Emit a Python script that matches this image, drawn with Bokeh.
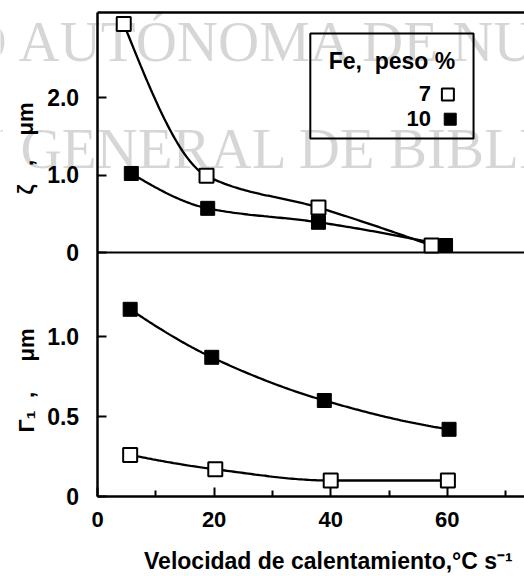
import numpy as np
from bokeh.plotting import figure
from bokeh.models import Range1d, FixedTicker, Label, BoxAnnotation
from bokeh.embed import file_html
from bokeh.resources import INLINE

# ---------------- data ----------------
x_zeta_7 = [4.5, 18.7, 37.9, 57.3]
zeta_7 = [2.95, 0.99, 0.58, 0.09]
x_zeta_10 = [5.8, 18.9, 37.9, 59.7]
zeta_10 = [1.02, 0.57, 0.39, 0.09]

x_gamma_7 = [5.6, 20.2, 40.0, 60.1]
gamma_7 = [0.26, 0.17, 0.10, 0.10]
x_gamma_10 = [5.6, 19.6, 38.9, 60.3]
gamma_10 = [1.17, 0.87, 0.60, 0.42]

x_ticks = [0, 20, 40, 60]
x_minor_ticks = [10, 30, 50, 70]
zeta_ticks = [0, 1, 2]
zeta_tick_labels = ["0", "1.0", "2.0"]
gamma_ticks = [0, 0.5, 1.0]
gamma_tick_labels = ["0", "0.5", "1.0"]
legend_title = "Fe,\u00a0 peso %"
legend_labels = ["7", "10"]
x_title = "Velocidad de calentamiento,°C s⁻¹"
NB = "\u00a0"
zeta_title = "ζ" + NB * 3 + "," + NB * 4 + "μm"
gamma_title = "Γ₁" + NB * 2 + "," + NB * 5 + "μm"
watermark = [("UNIVERSIDAD", "AUTÓNOMA DE NUEVO LEÓN"),
             ("DIRECCIÓN", "GENERAL DE BIBLIOTECAS")]

FONT = "Liberation Sans"
SERIF = "Liberation Serif"

# ranges: the frame covers the whole canvas; axes are fixed at x = 0 and y = 0
X_RANGE = (-16.64, 73.24)
G_RANGE = (-0.5, 3.1)        # lower panel (Gamma_1), main range
Z_RANGE = (-4.181, 3.252)    # upper panel (zeta), extra range
G_TOP = 3.025                # top border of the upper panel


def z_to_g(z):
    return (z - Z_RANGE[0]) / (Z_RANGE[1] - Z_RANGE[0]) * (G_RANGE[1] - G_RANGE[0]) + G_RANGE[0]


def smooth(x, y, n=50):
    """Monotone cubic (PCHIP) drawing curve through the data points."""
    x = np.asarray(x, float)
    y = np.asarray(y, float)
    h = np.diff(x)
    d = np.diff(y) / h
    m = np.zeros_like(y)
    for k in range(1, len(x) - 1):
        if d[k - 1] * d[k] <= 0:
            m[k] = 0.0
        else:
            w1 = 2 * h[k] + h[k - 1]
            w2 = h[k] + 2 * h[k - 1]
            m[k] = (w1 + w2) / (w1 / d[k - 1] + w2 / d[k])

    def end(h0, h1, d0, d1):
        s = ((2 * h0 + h1) * d0 - h0 * d1) / (h0 + h1)
        if np.sign(s) != np.sign(d0):
            return 0.0
        if np.sign(d0) != np.sign(d1) and abs(s) > abs(3 * d0):
            return 3 * d0
        return s

    m[0] = end(h[0], h[1], d[0], d[1])
    m[-1] = end(h[-1], h[-2], d[-1], d[-2])
    xs, ys = [], []
    t = np.linspace(0, 1, n)
    for k in range(len(x) - 1):
        h00 = 2 * t**3 - 3 * t**2 + 1
        h10 = t**3 - 2 * t**2 + t
        h01 = -2 * t**3 + 3 * t**2
        h11 = t**3 - t**2
        xs.extend(x[k] + t * h[k])
        ys.extend(h00 * y[k] + h10 * h[k] * m[k] + h01 * y[k + 1] + h11 * h[k] * m[k + 1])
    return xs, ys


p = figure(width=524, height=576, x_range=Range1d(*X_RANGE), y_range=Range1d(*G_RANGE),
           output_backend="svg", toolbar_location=None,
           min_border_left=0, min_border_right=0, min_border_top=0, min_border_bottom=0,
           outline_line_color=None, background_fill_color="white", border_fill_color="white")
p.extra_y_ranges = {"zeta": Range1d(*Z_RANGE)}
p.grid.visible = False

# ---- watermark (behind everything, light) ----
wm_kw = dict(text_font=SERIF, text_font_size="57px", text_color="black", text_alpha=0.16,
             text_baseline="middle", y_range_name="zeta", level="underlay")
for (left_part, right_part), yc, xr, xl in zip(watermark, [2.72, 1.34], [-15.6, -16.0],
                                               [-13.55, -13.2]):
    p.add_layout(Label(x=xr, y=yc, text=left_part, text_align="right", **wm_kw))
    p.add_layout(Label(x=xl, y=yc, text=right_part, text_align="left", **wm_kw))

# ---- y axis: fixed at x = 0, ticks of both panels on one axis line ----
ya = p.yaxis[0]
ya.fixed_location = 0
ya.bounds = (0, G_TOP)
all_ticks = [float(t) for t in gamma_ticks] + [float(z_to_g(z)) for z in zeta_ticks]
all_labels = gamma_tick_labels + zeta_tick_labels
ya.ticker = FixedTicker(ticks=all_ticks)
ya.major_label_overrides = {t: l + NB for t, l in zip(all_ticks, all_labels)}
ya.major_tick_in = 9
ya.major_tick_out = 0
ya.minor_tick_line_color = None
ya.axis_line_width = 2.5
ya.major_tick_line_width = 2
ya.major_label_standoff = 12
ya.major_label_text_font = FONT
ya.major_label_text_font_style = "bold"
ya.major_label_text_font_size = "23px"
ya.major_label_text_color = "black"

# ---- x axis: fixed at y = 0 ----
xa = p.xaxis[0]
xa.fixed_location = 0
xa.bounds = (x_ticks[0], X_RANGE[1])
xa.ticker = FixedTicker(ticks=x_ticks, minor_ticks=x_minor_ticks)
xa.major_tick_in = 9
xa.major_tick_out = 0
xa.minor_tick_in = 6
xa.minor_tick_out = 0
xa.axis_line_width = 2.5
xa.major_tick_line_width = 2
xa.minor_tick_line_width = 2
xa.major_label_standoff = 15
xa.major_label_text_font = FONT
xa.major_label_text_font_style = "bold"
xa.major_label_text_font_size = "22px"
xa.major_label_text_color = "black"

# ---- axis titles ----
title_kw = dict(text_font=FONT, text_font_style="bold", text_color="black",
                text_align="center", text_baseline="middle")
p.add_layout(Label(x=39.6, y=-0.40, text=x_title, text_font_size="23px", **title_kw))
p.add_layout(Label(x=-12.3, y=1.342, text=zeta_title, angle=np.pi / 2,
                   text_font_size="22px", y_range_name="zeta", **title_kw))
p.add_layout(Label(x=-12.1, y=0.725, text=gamma_title, angle=np.pi / 2,
                   text_font_size="22px", **title_kw))

# ---- frame lines: top border and zero line of the upper panel ----
p.segment(x0=[x_ticks[0]], x1=[X_RANGE[1]], y0=[G_TOP], y1=[G_TOP],
          line_color="black", line_width=2.5)
p.segment(x0=[x_ticks[0]], x1=[X_RANGE[1]], y0=[0], y1=[0],
          line_color="black", line_width=2, y_range_name="zeta")

# ---- upper panel: zeta ----
xs, ys = smooth(x_zeta_7, zeta_7)
p.line(xs, ys, line_color="black", line_width=2.3, y_range_name="zeta")
xs, ys = smooth(x_zeta_10, zeta_10)
p.line(xs, ys, line_color="black", line_width=2.3, y_range_name="zeta")
p.scatter(x_zeta_7, zeta_7, marker="square", size=14, fill_color="white",
          line_color="black", line_width=2, y_range_name="zeta")
p.scatter(x_zeta_10, zeta_10, marker="square", size=14, fill_color="black",
          line_color="black", line_width=1, y_range_name="zeta")

# legend (drawn by hand: labels left of the keys)
p.add_layout(BoxAnnotation(left=36.5, right=64.5, bottom=1.47, top=2.826, y_range_name="zeta",
                           fill_alpha=0, line_color="black", line_width=2, line_alpha=1))
p.add_layout(Label(x=50.5, y=2.465, text=legend_title, text_align="center", y_range_name="zeta",
                   text_baseline="middle", text_font=FONT, text_font_style="bold",
                   text_font_size="23px", text_color="black"))
p.add_layout(Label(x=57.2, y=2.05, text=legend_labels[0], text_align="right", y_range_name="zeta",
                   text_baseline="middle", text_font=FONT, text_font_style="bold",
                   text_font_size="22px", text_color="black"))
p.add_layout(Label(x=57.2, y=1.73, text=legend_labels[1], text_align="right", y_range_name="zeta",
                   text_baseline="middle", text_font=FONT, text_font_style="bold",
                   text_font_size="22px", text_color="black"))
p.scatter([60.1], [2.04], marker="square", size=12, fill_color="white",
          line_color="black", line_width=2, y_range_name="zeta")
p.scatter([60.5], [1.72], marker="square", size=12, fill_color="black",
          line_color="black", line_width=1, y_range_name="zeta")

# ---- lower panel: Gamma_1 ----
xs, ys = smooth(x_gamma_10, gamma_10)
p.line(xs, ys, line_color="black", line_width=2.3)
xs, ys = smooth(x_gamma_7, gamma_7)
p.line(xs, ys, line_color="black", line_width=2.3)
p.scatter(x_gamma_7, gamma_7, marker="square", size=14, fill_color="white",
          line_color="black", line_width=2)
p.scatter(x_gamma_10, gamma_10, marker="square", size=14, fill_color="black",
          line_color="black", line_width=1)

open("out.html", "w").write(file_html(p, INLINE))
